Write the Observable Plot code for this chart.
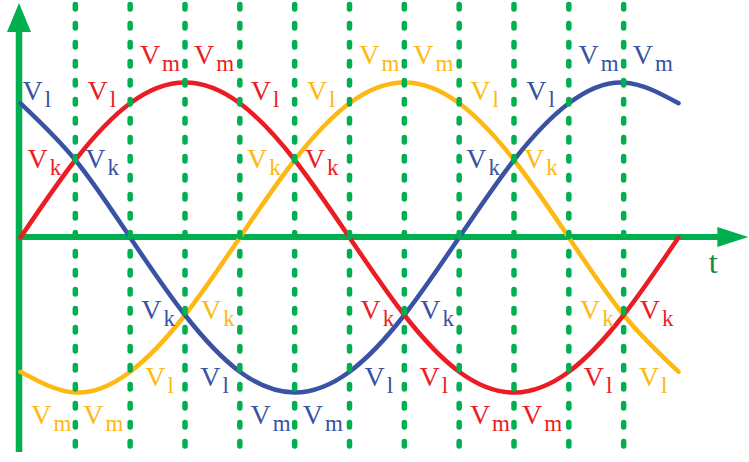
<!DOCTYPE html>
<html>
<head>
<meta charset="utf-8">
<script src="https://cdn.jsdelivr.net/npm/d3@7"></script>
<script src="https://cdn.jsdelivr.net/npm/@observablehq/plot@0.6"></script>
<style>
  html, body { margin: 0; padding: 0; background: #ffffff; }
</style>
</head>
<body>
<div id="chart"></div>
<script>
// Electrical angle (degrees) at each dashed guide line, plus both ends.
const angles = [0, 30, 60, 90, 120, 150, 180, 210, 240, 270, 300, 330, 360];

// Instantaneous value of each phase (as a fraction of Vm) at those angles.
const redValues    = [0, 0.5, 0.866, 1, 0.866, 0.5, 0, -0.5, -0.866, -1, -0.866, -0.5, 0];
const blueValues   = [0.866, 0.5, 0, -0.5, -0.866, -1, -0.866, -0.5, 0, 0.5, 0.866, 1, 0.866];
const yellowValues = [-0.866, -1, -0.866, -0.5, 0, 0.5, 0.866, 1, 0.866, 0.5, 0, -0.5, -0.866];

// Dashed vertical guides every 30°.
const gridAngles = [30, 60, 90, 120, 150, 180, 210, 240, 270, 300, 330];

// Value labels: [phase, angle, subscript, side of the point].
const labelRows = [
  ["blue", 0, "l", "right"],
  ["red", 60, "l", "left"],
  ["red", 90, "m", "left"],
  ["red", 90, "m", "right"],
  ["red", 120, "l", "right"],
  ["yellow", 180, "l", "left"],
  ["yellow", 210, "m", "left"],
  ["yellow", 210, "m", "right"],
  ["yellow", 240, "l", "right"],
  ["blue", 300, "l", "left"],
  ["blue", 330, "m", "left"],
  ["blue", 330, "m", "right"],
  ["red", 30, "k", "left"],
  ["blue", 30, "k", "right"],
  ["yellow", 150, "k", "left"],
  ["red", 150, "k", "right"],
  ["blue", 270, "k", "left"],
  ["yellow", 270, "k", "right"],
  ["blue", 90, "k", "left"],
  ["yellow", 90, "k", "right"],
  ["red", 210, "k", "left"],
  ["blue", 210, "k", "right"],
  ["yellow", 330, "k", "left"],
  ["red", 330, "k", "right"],
  ["yellow", 60, "l", "right"],
  ["blue", 120, "l", "left"],
  ["blue", 180, "l", "right"],
  ["red", 240, "l", "left"],
  ["red", 300, "l", "right"],
  ["yellow", 360, "l", "left"],
  ["yellow", 30, "m", "left"],
  ["yellow", 30, "m", "right"],
  ["blue", 150, "m", "left"],
  ["blue", 150, "m", "right"],
  ["red", 270, "m", "left"],
  ["red", 270, "m", "right"]
];

const axisTitle = "t";

// ---- styling ----
const colors = { red: "#ec1c24", blue: "#3a52a3", yellow: "#fdb913" };
const green = "#00b050";
const titleGreen = "#128a43";
const labelFont = "'Liberation Serif', 'Times New Roman', serif";
const labelSize = 28;
const subSize = 23;

// Extents of the drawn axes, in data units.
const axisExtent = { top: 1.51, bottom: -1.387, right: 398.5 };

// Placement of each label relative to its point (pixels): horizontal gap and V baseline shift.
const placement = {
  "m-top":    { left: 5,  right: 9,  base: -19 },
  "l-top":    { left: 14, right: 11, base: -3 },
  "k-top":    { left: 14, right: 10, base: 8 },
  "k-bottom": { left: 10, right: 16, base: 4 },
  "l-bottom": { left: 11, right: 15, base: 14 },
  "m-bottom": { left: 4,  right: 8,  base: 31 }
};
// Labels on the vertical axis sit right against it.
const axisGap = 2;

const series = { red: redValues, blue: blueValues, yellow: yellowValues };

const curveRows = (phase) => angles.map((a, i) => ({ angle: a, v: series[phase][i] }));

const labels = labelRows.map(([phase, angle, sub, side]) => {
  const v = series[phase][angles.indexOf(angle)];
  return { phase, angle, v, sub, side, text: "V" + sub, group: `${sub}-${v > 0 ? "top" : "bottom"}` };
});

// Axes with filled arrowheads, drawn through the plot's own scales.
function axesMark(index, { x, y }) {
  const g = d3.create("svg:g");
  const x0 = x(0) - 1, y0 = y(0);
  const yTop = y(axisExtent.top), yBot = y(axisExtent.bottom);
  const xRight = x(axisExtent.right);
  const headLen = 29, headHalf = 12, headLenH = 31, headHalfH = 10;
  g.append("line").attr("x1", x0).attr("x2", x0).attr("y1", yBot).attr("y2", yTop + headLen - 1)
    .attr("stroke", green).attr("stroke-width", 6.5);
  g.append("path").attr("d", `M${x0},${yTop}L${x0 + headHalf},${yTop + headLen}L${x0 - headHalf},${yTop + headLen}Z`)
    .attr("fill", green);
  g.append("line").attr("x1", x0 - 3).attr("x2", xRight - headLenH + 1).attr("y1", y0).attr("y2", y0)
    .attr("stroke", green).attr("stroke-width", 6);
  g.append("path").attr("d", `M${xRight},${y0}L${xRight - headLenH},${y0 - headHalfH}L${xRight - headLenH},${y0 + headHalfH}Z`)
    .attr("fill", green);
  return g.node();
}

const labelMarks = [];
for (const [group, p] of Object.entries(placement)) {
  for (const side of ["left", "right"]) {
    for (const onAxis of [false, true]) {
      const rows = labels.filter(d => d.group === group && d.side === side && (d.angle === 0) === onAxis);
      if (!rows.length) continue;
      const gap = onAxis ? axisGap : p[side];
      labelMarks.push(Plot.text(rows, {
        x: "angle",
        y: "v",
        text: "text",
        fill: d => colors[d.phase],
        textAnchor: side === "left" ? "end" : "start",
        lineAnchor: "middle",
        dx: side === "left" ? -gap : gap,
        dy: p.base - 0.32 * labelSize,
        fontFamily: labelFont,
        fontSize: labelSize
      }));
    }
  }
}

const chart = Plot.plot({
  width: 749,
  height: 462,
  marginLeft: 20,
  marginRight: 71,
  marginTop: 82,
  marginBottom: 70,
  x: { domain: [0, 360], axis: null },
  y: { domain: [-1, 1], axis: null },
  color: { type: "identity" },
  style: { background: "#ffffff", overflow: "visible" },
  marks: [
    axesMark,
    Plot.line(curveRows("yellow"), { x: "angle", y: "v", curve: "natural", stroke: colors.yellow, strokeWidth: 4.5, strokeLinecap: "round" }),
    Plot.line(curveRows("blue"), { x: "angle", y: "v", curve: "natural", stroke: colors.blue, strokeWidth: 4.5, strokeLinecap: "round" }),
    Plot.line(curveRows("red"), { x: "angle", y: "v", curve: "natural", stroke: colors.red, strokeWidth: 4.5, strokeLinecap: "round" }),
    Plot.ruleX(gridAngles, {
      x: d => d,
      y1: axisExtent.top - 0.01,
      y2: axisExtent.bottom,
      stroke: green,
      strokeWidth: 5.5,
      strokeDasharray: "4.5,14.5",
      strokeLinecap: "round"
    }),
    Plot.text([axisTitle], {
      x: 379,
      y: -0.161,
      text: d => d,
      fill: titleGreen,
      fontFamily: labelFont,
      fontSize: 32,
      textAnchor: "middle",
      lineAnchor: "middle"
    }),
    ...labelMarks
  ]
});

// Render each "V" + letter label as V with a subscript.
chart.querySelectorAll("text").forEach(t => {
  const s = t.textContent;
  if (/^V[mlk]$/.test(s)) {
    while (t.firstChild) t.removeChild(t.firstChild);
    const ns = "http://www.w3.org/2000/svg";
    const v = document.createElementNS(ns, "tspan");
    v.textContent = "V";
    const sub = document.createElementNS(ns, "tspan");
    sub.textContent = s.slice(1);
    sub.setAttribute("font-size", String(subSize));
    sub.setAttribute("dx", "2");
    sub.setAttribute("dy", "7");
    t.appendChild(v);
    t.appendChild(sub);
  }
});

document.getElementById("chart").appendChild(chart);
</script>
</body>
</html>
